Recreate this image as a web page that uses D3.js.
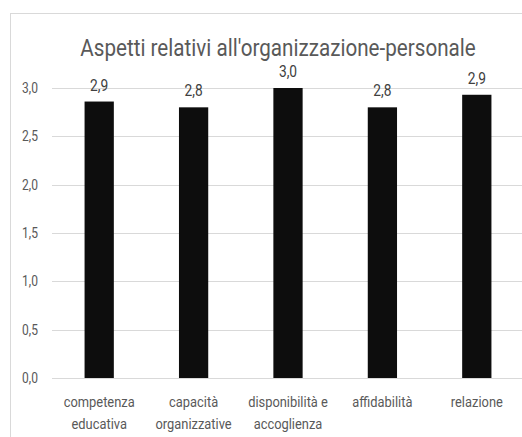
<!DOCTYPE html>
<meta charset="UTF-8">
<style>
  body { margin: 0; background: #fff; }
  text { font-family: "Roboto", "Liberation Sans", sans-serif; }
  .grid line { stroke: #d9d9d9; stroke-width: 1px; }
  .tick-label { fill: #595959; font-size: 14px; }
  .cat-label { fill: #595959; font-size: 15px; }
  .val-label { fill: #404040; font-size: 16px; }
  .title { fill: #595959; font-size: 24px; }
</style>
<body>
<script src="https://cdn.jsdelivr.net/npm/d3@7"></script>
<script>
  // categories and values
  var categories = [
    ["competenza", "educativa"],
    ["capacità", "organizzative"],
    ["disponibilità e", "accoglienza"],
    ["affidabilità"],
    ["relazione"]
  ];
  var values = [2.86, 2.80, 3.00, 2.80, 2.93];
  var yTicks = [0, 0.5, 1.0, 1.5, 2.0, 2.5, 3.0];
  var title = "Aspetti relativi all'organizzazione-personale";

  var width = 522, height = 437;
  var plot = { left: 52, right: 524, top: 88, bottom: 378 };
  var squeeze = 0.86; // the original text looks horizontally condensed

  var fmt = function(v) { return d3.format(".1f")(v).replace(".", ","); };
  var place = function(px, py) {
    return "translate(" + px + "," + py + ") scale(" + squeeze + ",1)";
  };

  var svg = d3.select("body").append("svg")
    .attr("width", width)
    .attr("height", height);

  // chart area border
  svg.append("rect")
    .attr("x", 10.5).attr("y", 13.5)
    .attr("width", 600).attr("height", 500)
    .attr("fill", "#fff")
    .attr("stroke", "#d9d9d9");

  var x = d3.scaleBand()
    .domain(d3.range(values.length))
    .range([plot.left, plot.right])
    .paddingInner(0.69)
    .paddingOuter(0.345);

  var y = d3.scaleLinear()
    .domain([0, 3])
    .range([plot.bottom, plot.top]);

  // gridlines
  var grid = svg.append("g").attr("class", "grid");
  grid.selectAll("line")
    .data(yTicks)
    .enter().append("line")
    .attr("x1", plot.left)
    .attr("x2", plot.right)
    .attr("y1", function(d) { return Math.round(y(d)) + 0.5; })
    .attr("y2", function(d) { return Math.round(y(d)) + 0.5; });

  // y tick labels
  svg.selectAll("text.tick-label")
    .data(yTicks)
    .enter().append("text")
    .attr("class", "tick-label")
    .attr("transform", function(d) { return place(38, y(d) + 5); })
    .attr("text-anchor", "end")
    .text(fmt);

  // bars
  svg.selectAll("rect.bar")
    .data(values)
    .enter().append("rect")
    .attr("class", "bar")
    .attr("x", function(d, i) { return x(i); })
    .attr("y", function(d) { return y(d); })
    .attr("width", x.bandwidth())
    .attr("height", function(d) { return y(0) - y(d); })
    .attr("fill", "#0d0d0d");

  // value labels
  svg.selectAll("text.val-label")
    .data(values)
    .enter().append("text")
    .attr("class", "val-label")
    .attr("transform", function(d, i) {
      return place(x(i) + x.bandwidth() / 2, y(d) - 11);
    })
    .attr("text-anchor", "middle")
    .text(fmt);

  // category labels
  var cat = svg.selectAll("text.cat-label")
    .data(categories)
    .enter().append("text")
    .attr("class", "cat-label")
    .attr("text-anchor", "middle")
    .attr("transform", function(d, i) {
      return place(x(i) + x.bandwidth() / 2, 407);
    });
  cat.selectAll("tspan")
    .data(function(d) { return d; })
    .enter().append("tspan")
    .attr("x", 0)
    .attr("dy", function(d, i) { return i ? 22 : 0; })
    .text(function(d) { return d; });

  // title
  svg.append("text")
    .attr("class", "title")
    .attr("transform", "translate(278,56) scale(" + squeeze + ",1)")
    .attr("text-anchor", "middle")
    .text(title);
</script>
</body>
